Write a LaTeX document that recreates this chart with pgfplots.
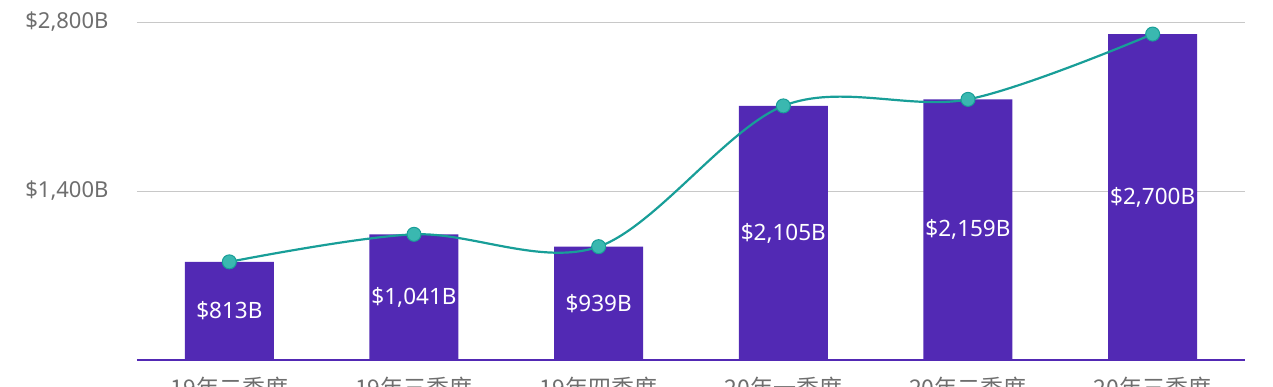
\documentclass[border=0pt]{standalone}
\usepackage{pgfplots}
\usepackage{pgfplotstable}
\pgfplotsset{compat=1.18}
\usepackage{fontspec}
\setmainfont{Noto Sans}
\newfontfamily\cjk{Noto Sans CJK SC}
\definecolor{barc}{RGB}{82,41,180}
\definecolor{linec}{RGB}{24,158,152}
\definecolor{markc}{RGB}{58,184,176}
\definecolor{gridc}{RGB}{200,200,200}
\definecolor{tickc}{RGB}{110,110,110}
\pgfplotstableread{
x y
0 813
1 1041
2 939
3 2105
4 2159
5 2700
}\data
\begin{document}
\begin{tikzpicture}
\begin{axis}[
  scale only axis,
  width=1108pt, height=338pt,
  xmin=-0.5, xmax=5.5,
  ymin=0, ymax=2800,
  clip=false,
  axis x line*=bottom,
  x axis line style={draw=barc, line width=2pt, -},
  separate axis lines,
  y axis line style={draw=none},
  major tick length=0pt,
  xtick={0,1,2,3,4,5},
  xticklabels={19年二季度,19年三季度,19年四季度,20年一季度,20年二季度,20年三季度},
  xticklabel style={font=\cjk\fontsize{23}{26}\selectfont, text=tickc, yshift=-14pt},
  ytick={1400,2800},
  yticklabels={{\$1,400B},{\$2,800B}},
  yticklabel style={font=\fontsize{22}{26}\selectfont, text=tickc, xshift=-25pt},
  ymajorgrids,
  grid style={gridc, line width=0.8pt},
]
\addplot[ybar, bar width=89pt, fill=barc, draw=none] table[x=x,y=y] {\data};
\addplot[draw=none, mark=none,
  nodes near coords={\$\pgfmathprintnumber[assume math mode=true, fixed, precision=0, 1000 sep={,}]{\pgfplotspointmeta}B},
  point meta=explicit,
  every node near coord/.append style={anchor=center, text=white, font=\fontsize{22.5}{26}\selectfont},
] table[x=x, y expr=\thisrow{y}/2, meta=y] {\data};
\addplot[smooth, tension=0.55, color=linec, line width=2.2pt,
  mark=*, mark size=7pt, mark options={fill=markc, draw=linec, line width=1pt}]
  table[x=x,y=y] {\data};
\end{axis}
\pgfresetboundingbox
\path[use as bounding box] (current axis.south west) ++(-137pt,-26pt) rectangle ++(1273pt,386pt);
\end{tikzpicture}
\end{document}
